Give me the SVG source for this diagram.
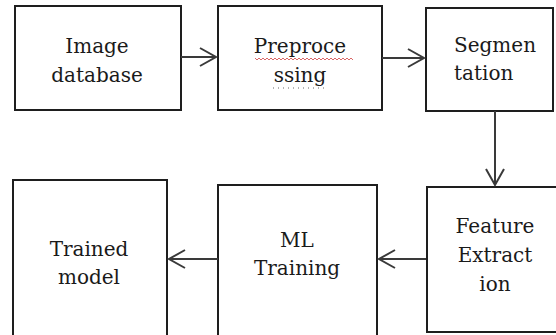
<svg xmlns="http://www.w3.org/2000/svg" width="556" height="335" viewBox="0 0 556 335">
  <style>
    .box { fill: #ffffff; stroke: #1e1e1e; stroke-width: 2; }
    text { font-family: 'DejaVu Serif', serif; font-size: 20px; fill: #1a1a1a; }
    .mid { text-anchor: middle; }
    .edge { fill: none; stroke: #3a3a3a; stroke-width: 2; marker-end: url(#chev); }
  </style>
  <defs>
    <marker id="chev" markerUnits="userSpaceOnUse" markerWidth="20" markerHeight="24" viewBox="-18 -12 20 24" refX="0" refY="0" orient="auto" overflow="visible">
      <path d="M -16 -9 L 0 0 L -16 9" fill="none" stroke="#3a3a3a" stroke-width="2"/>
    </marker>
  </defs>
  <rect width="556" height="335" fill="#ffffff"/>

  <g id="image-database">
    <rect class="box" x="15" y="6" width="166" height="104"/>
    <text class="mid" x="97" y="53">Image</text>
    <text class="mid" x="97" y="82">database</text>
  </g>

  <g id="preprocessing">
    <rect class="box" x="218" y="6" width="164" height="104"/>
    <text class="mid" x="300" y="53">Preproce</text>
    <text class="mid" x="300" y="82">ssing</text>
    <!-- spell-check marks under the split word -->
    <path d="M255 58 l2 2 l2 -2 l2 2 l2 -2 l2 2 l2 -2 l2 2 l2 -2 l2 2 l2 -2 l2 2 l2 -2 l2 2 l2 -2 l2 2 l2 -2 l2 2 l2 -2 l2 2 l2 -2 l2 2 l2 -2 l2 2 l2 -2 l2 2 l2 -2 l2 2 l2 -2 l2 2 l2 -2 l2 2 l2 -2 l2 2 l2 -2 l2 2 l2 -2 l2 2 l2 -2 l2 2 l2 -2 l2 2 l2 -2 l2 2 l2 -2 l2 2 l2 -2 l2 2 l2 -2 l2 2" fill="none" stroke="#d04040" stroke-width="0.8"/>
    <line x1="273" y1="88" x2="327" y2="88" stroke="#666" stroke-width="1" stroke-dasharray="1 4"/>
  </g>

  <g id="segmentation">
    <rect class="box" x="426" y="8" width="127" height="103"/>
    <text x="454" y="52">Segmen</text>
    <text x="454" y="80">tation</text>
  </g>

  <g id="feature-extraction">
    <rect class="box" x="427" y="187" width="140" height="145"/>
    <text class="mid" x="495" y="233">Feature</text>
    <text class="mid" x="495" y="262">Extract</text>
    <text class="mid" x="495" y="291">ion</text>
  </g>

  <g id="ml-training">
    <rect class="box" x="218" y="185" width="159" height="170"/>
    <text class="mid" x="297" y="247">ML</text>
    <text class="mid" x="297" y="275">Training</text>
  </g>

  <g id="trained-model">
    <rect class="box" x="13" y="180" width="154" height="170"/>
    <text class="mid" x="89" y="256">Trained</text>
    <text class="mid" x="89" y="284">model</text>
  </g>

  <g id="connectors">
    <line class="edge" x1="181" y1="57" x2="216" y2="57"/>
    <line class="edge" x1="382" y1="58" x2="424" y2="58"/>
    <line class="edge" x1="495" y1="111" x2="495" y2="185"/>
    <line class="edge" x1="426" y1="259" x2="379" y2="259"/>
    <line class="edge" x1="218" y1="259" x2="169" y2="259"/>
  </g>
</svg>
